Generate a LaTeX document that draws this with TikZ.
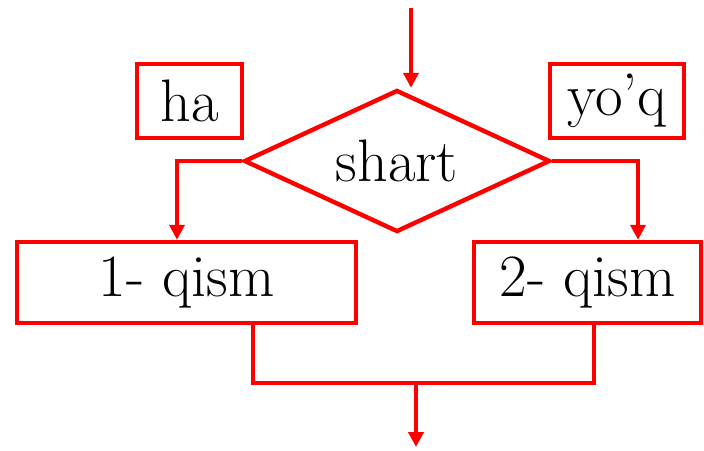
\documentclass[tikz,border=0pt]{standalone}
\usetikzlibrary{shapes.geometric,arrows.meta,calc}
\begin{document}
\begin{tikzpicture}[x=0.5pt,y=-0.5pt,
  line width=2.2pt,
  red line/.style={draw=red},
  boxstyle/.style={draw=red,line width=2.2pt,rectangle,inner sep=0pt,font=\fontsize{30}{34}\selectfont},
  flowarrow/.style={draw=red,line width=2.2pt,-{Triangle[width=7.5pt,length=7.5pt]}}]
\useasboundingbox (0,0) rectangle (704,450);
\node[boxstyle,shape=diamond,aspect=2.15,minimum width=153pt,minimum height=71pt] (dia) at (397,161) {shart};
\node[boxstyle,minimum width=52.5pt,minimum height=37pt] (ha) at (189.5,101) {ha};
\node[boxstyle,minimum width=67pt,minimum height=37pt] (yoq) at (617,101) {yo’q};
\node[boxstyle,minimum width=169.5pt,minimum height=40.5pt] (b1) at (186.5,282.5) {1- qism};
\node[boxstyle,minimum width=113.5pt,minimum height=40.5pt] (b2) at (587.5,282.5) {2- qism};
\coordinate (in) at (411,8);
\coordinate (j) at (416,383);
\coordinate (out) at (416,447);
\draw[flowarrow] (in) -- (in |- dia.north);
\draw[flowarrow] (dia.west) -| ($(b1.north)+(-9.5,0)$);
\draw[flowarrow] (dia.east) -| ($(b2.north)+(50.5,0)$);
\draw[red line] ($(b1.south)+(66.5,0)$) |- (j) -| ($(b2.south)+(6.5,0)$);
\draw[flowarrow] (j) -- (out);
\end{tikzpicture}
\end{document}
